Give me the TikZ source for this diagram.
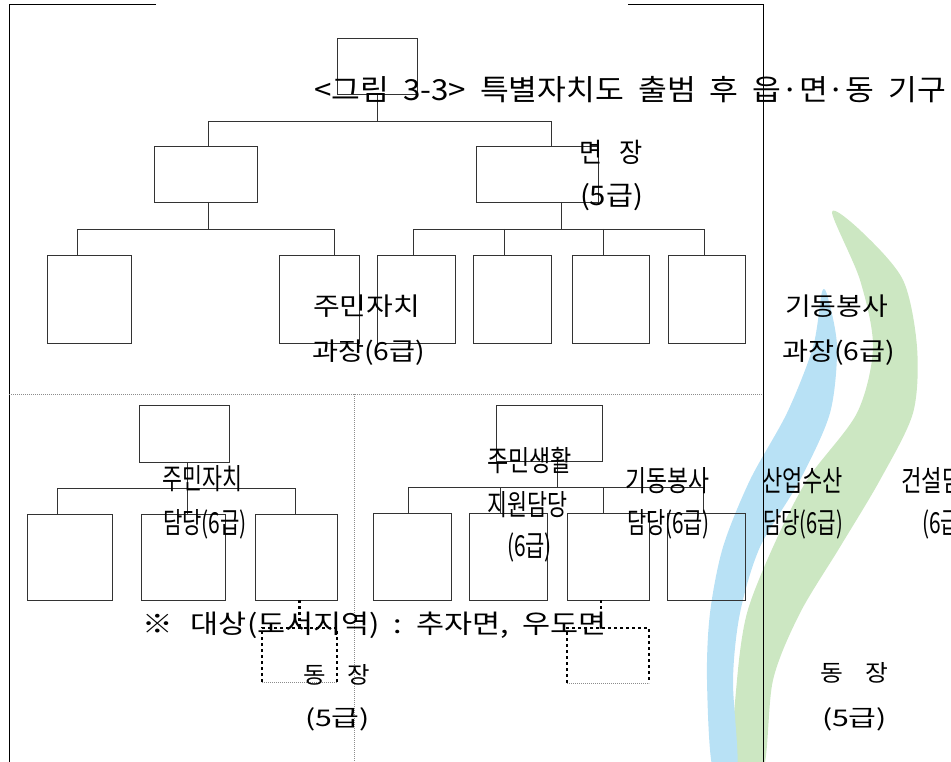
\documentclass[tikz,border=0pt]{standalone}
\usepackage{fontspec}
\setmainfont{Noto Sans CJK KR}
\usepackage{graphicx}
\newcommand\kspc{\hspace{0.45em}}
\newcommand\lbl[6]{\node[lblst, font=\fontsize{#4}{#4}\selectfont, anchor=west] (#1) at (#2,#3) {\resizebox{#5pt}{\height}{#6}};}
\definecolor{wmblue}{HTML}{B8E1F5}
\definecolor{wmgreen}{HTML}{CCE7C2}
\tikzset{
  box/.style={draw=black!80, line width=0.9pt, inner sep=0pt, outer sep=0pt},
  ghost/.style={inner sep=0pt, outer sep=0pt},
  conn/.style={draw=black!80, line width=0.9pt},
  frame/.style={draw=black, line width=1pt},
  sepline/.style={draw=black!45, line width=0.7pt, dash pattern=on 1pt off 1pt},
  dotl/.style={draw=black, line width=2.4pt, dash pattern=on 2.6pt off 3.4pt},
  lblst/.style={inner sep=0pt, outer sep=0pt, text height=0.83em, text depth=0.07em}
}
\begin{document}
\begin{tikzpicture}[x=1pt,y=-1pt]
\useasboundingbox (0,0) rectangle (951,762);
\clip (0,0) rectangle (951,762);
% watermark shapes
\fill[wmgreen] plot[smooth cycle] coordinates {(832,212) (860,280) (873,347) (857,413) (807,480) (773,547) (747,613) (737,680) (733,770) (763,770) (773,680) (800,613) (840,547) (880,480) (913,413) (917,347) (903,280) (862,232)};
\fill[wmblue] plot[smooth cycle] coordinates {(822,292) (813,347) (787,413) (750,480) (723,547) (710,613) (707,680) (713,770) (737,770) (733,680) (740,613) (760,547) (800,480) (830,413) (837,347) (828,298)};
% frame
\coordinate (fa) at (156,5); \coordinate (fb) at (9,5); \coordinate (fc) at (9,762);
\coordinate (fd) at (628,5); \coordinate (fe) at (763,5); \coordinate (ff) at (763,762);
\draw[frame] (fa) -- (fb) -- (fc);
\draw[frame] (fd) -- (fe) -- (ff);
\coordinate (sa) at (9,394); \coordinate (sb) at (763,394);
\coordinate (sc) at (354,394); \coordinate (sd) at (354,762);
\draw[sepline] (sa) -- (sb);
\draw[sepline] (sc) -- (sd);
% top chart
\node[box, minimum width=80pt, minimum height=56pt] (t0) at (377,66) {};
\node[box, minimum width=103pt, minimum height=56pt] (b1) at (205.5,174) {};
\node[box, minimum width=122pt, minimum height=56pt] (b2) at (537,174) {};
\node[box, minimum width=84pt, minimum height=88pt] (c1) at (89,299) {};
\node[box, minimum width=80pt, minimum height=88pt] (c2) at (319,299) {};
\node[box, minimum width=78pt, minimum height=88pt] (c3) at (416,299) {};
\node[box, minimum width=78pt, minimum height=88pt] (c4) at (512,299) {};
\node[box, minimum width=77pt, minimum height=88pt] (c5) at (610.5,299) {};
\node[box, minimum width=77pt, minimum height=88pt] (c6) at (706.5,299) {};
\coordinate (j1) at (377,121); \coordinate (j1l) at (208,121); \coordinate (j1r) at (551,121);
\draw[conn] (t0.south) -- (j1);
\draw[conn] (b1.north -| j1l) -- (j1l) -- (j1r) -- (b2.north -| j1r);
\coordinate (k1) at (208,229); \coordinate (k1l) at (77,229); \coordinate (k1r) at (334,229);
\draw[conn] (b1.south -| k1) -- (k1);
\draw[conn] (c1.north -| k1l) -- (k1l) -- (k1r) -- (c2.north -| k1r);
\coordinate (k2) at (561,229);
\coordinate (m1) at (413,229); \coordinate (m2) at (504,229); \coordinate (m3) at (603,229); \coordinate (m4) at (704,229);
\draw[conn] (b2.south -| k2) -- (k2);
\draw[conn] (c3.north -| m1) -- (m1) -- (m4) -- (c6.north -| m4);
\draw[conn] (m2) -- (c4.north -| m2);
\draw[conn] (m3) -- (c5.north -| m3);
% lower left chart
\node[box, minimum width=90pt, minimum height=57pt] (d0) at (184,433.5) {};
\node[box, minimum width=85pt, minimum height=86pt] (e1) at (69.5,557) {};
\node[box, minimum width=84pt, minimum height=86pt] (e2) at (183,557) {};
\node[box, minimum width=82pt, minimum height=86pt] (e3) at (296,557) {};
\coordinate (p0) at (187,488); \coordinate (pl) at (57,488); \coordinate (pr) at (295,488);
\draw[conn] (d0.south -| p0) -- (e2.north -| p0);
\draw[conn] (e1.north -| pl) -- (pl) -- (pr) -- (e3.north -| pr);
% lower right chart
\node[box, minimum width=106pt, minimum height=56pt] (f0) at (549,433) {};
\node[box, minimum width=78pt, minimum height=87pt] (g1) at (412,556.5) {};
\node[box, minimum width=78pt, minimum height=87pt] (g2) at (508,556.5) {};
\node[box, minimum width=82pt, minimum height=87pt] (g3) at (608,556.5) {};
\node[box, minimum width=78pt, minimum height=87pt] (g4) at (706,556.5) {};
\coordinate (q0) at (557,487);
\coordinate (q1) at (408,487); \coordinate (q2) at (500,487); \coordinate (q3) at (603,487); \coordinate (q4) at (703,487);
\draw[conn] (f0.south -| q0) -- (q0);
\draw[conn] (g1.north -| q1) -- (q1) -- (q4) -- (g4.north -| q4);
\draw[conn] (q2) -- (g2.north -| q2);
\draw[conn] (q3) -- (g3.north -| q3);
% dotted boxes
\node[ghost, minimum width=75pt, minimum height=54pt] (h1) at (299.5,655) {};
\node[ghost, minimum width=82pt, minimum height=55pt] (h2) at (608,655.5) {};
\draw[dotl] (h1.south west) -- (h1.north west) -- (h1.north east) -- (h1.south east);
\draw[sepline] (h1.south west) -- (h1.south east);
\draw[dotl] (e3.south -| h1.north) -- (h1.north);
\draw[dotl] (h2.south west) -- (h2.north west) -- (h2.north east) -- (h2.south east);
\draw[sepline] (h2.south west) -- (h2.south east);
\coordinate (r2) at (601,628);
\draw[dotl] (g3.south -| r2) -- (r2);
% labels
\lbl{title}{314}{97}{29}{632}{<그림\kspc 3-3>\kspc 특별자치도\kspc 출범\kspc 후\kspc 읍·면·동\kspc 기구}
\lbl{myeonA}{579}{159}{27}{64}{면\hspace{0.7em}장}
\lbl{myeonB}{580}{202}{27}{63}{(5급)}
\lbl{juminA}{313}{312}{25}{107}{주민자치}
\lbl{juminB}{312}{357}{25}{113}{과장(6급)}
\lbl{gidongA}{785}{312}{25}{103}{기동봉사}
\lbl{gidongB}{782}{357}{25}{113}{과장(6급)}
\lbl{ljA}{162}{486}{29}{80}{주민자치}
\lbl{ljB}{163}{530}{29}{84}{담당(6급)}
\lbl{lsA}{487}{468}{29}{85}{주민생활}
\lbl{lsB}{487}{512}{29}{80}{지원담당}
\lbl{lsC}{507}{553}{29}{45}{(6급)}
\lbl{lgA}{625}{488}{29}{84}{기동봉사}
\lbl{lgB}{627}{530}{29}{83}{담당(6급)}
\lbl{lpA}{762}{488}{29}{81}{산업수산}
\lbl{lpB}{763}{530}{29}{80}{담당(6급)}
\lbl{lcA}{901}{488}{29}{82}{건설담당}
\lbl{lcB}{922}{530}{29}{45}{(6급)}
\lbl{note}{142}{630}{26}{465}{※\hspace{0.6em}대상(도서지역)\kspc :\kspc 추자면,\kspc 우도면}
\lbl{dongA}{303}{680}{23}{67}{동\hspace{0.9em}장}
\lbl{dongB}{305}{723}{23}{65}{(5급)}
\lbl{dongC}{820}{678}{23}{68}{동\hspace{0.9em}장}
\lbl{dongD}{822}{723}{23}{65}{(5급)}
\end{tikzpicture}
\end{document}
